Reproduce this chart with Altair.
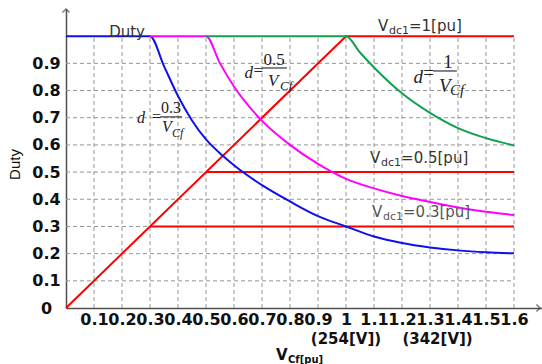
import altair as alt
import pandas as pd

# ---- duty curves d = k / V_Cf, saturated at d = 1 for small V_Cf ----
vcf_03 = [0.0, 0.30, 0.35, 0.40, 0.45, 0.50, 0.56, 0.60, 0.70, 0.80, 0.90,
          1.00, 1.10, 1.20, 1.30, 1.40, 1.50, 1.60]
duty_03 = [1.0, 1.00, 0.89, 0.78, 0.69, 0.62, 0.56, 0.525, 0.452, 0.392, 0.338,
           0.300, 0.263, 0.239, 0.223, 0.212, 0.205, 0.201]

vcf_05 = [0.30, 0.50, 0.55, 0.60, 0.695, 0.80, 0.90, 1.00, 1.10, 1.20, 1.30,
          1.40, 1.50, 1.60]
duty_05 = [1.0, 1.00, 0.90, 0.815, 0.694, 0.60, 0.53, 0.475, 0.44, 0.412, 0.39,
           0.37, 0.354, 0.342]

vcf_1 = [0.50, 1.00, 1.05, 1.10, 1.20, 1.30, 1.40, 1.50, 1.60]
duty_1 = [1.0, 1.00, 0.94, 0.885, 0.79, 0.718, 0.662, 0.625, 0.598]

curve_names = ["0.3", "0.5", "1"]
curve_colors = ["#1010ee", "#ff00ff", "#10a050"]

# ---- V_dc1 reference lines (red): ramp d = V_Cf and constant levels ----
ramp_x = [0.0, 1.0, 1.6]
ramp_y = [0.0, 1.0, 1.0]
vdc_levels = [0.5, 0.3]
vcf_end = 1.6

# ---- axis ticks ----
x_ticks = [0.1, 0.2, 0.3, 0.4, 0.5, 0.6, 0.7, 0.8, 0.9, 1.0,
           1.1, 1.2, 1.3, 1.4, 1.5, 1.6]
y_ticks = [0.0, 0.1, 0.2, 0.3, 0.4, 0.5, 0.6, 0.7, 0.8, 0.9]

xs = alt.Scale(domain=[0, 1.7], nice=False, zero=False)
ys = alt.Scale(domain=[0, 1.1], nice=False, zero=False)

curves = pd.concat([
    pd.DataFrame({"x": vx, "y": vy, "k": name})
    for vx, vy, name in zip([vcf_03, vcf_05, vcf_1], [duty_03, duty_05, duty_1], curve_names)
])
red = pd.concat(
    [pd.DataFrame({"x": ramp_x, "y": ramp_y, "s": "ramp"})]
    + [pd.DataFrame({"x": [lv, vcf_end], "y": [lv, lv], "s": f"L{lv}"}) for lv in vdc_levels]
)
one = pd.DataFrame({"k": [0]})

lab = dict(labelFont="DejaVu Sans", labelFontSize=16, labelFontWeight="bold",
           labelColor="#111", domain=True, domainColor="#505050", domainWidth=1.5,
           ticks=False, tickSize=0, grid=False, labelOverlap=False, labelFlush=False,
           labelBound=False, labelExpr="format(datum.value, '.1~f')")

# the same axis definition is given to every layer so the merged axes agree
x_axis = alt.Axis(values=x_ticks, title=None, labelPadding=3, **lab)
y_axis = alt.Axis(values=y_ticks, labelAlign="center", labelPadding=20,
                  title="Duty", titleFont="Liberation Sans", titleFontSize=15,
                  titleFontWeight="normal", titleColor="#111", titleAngle=270,
                  titleX=-52, titleY=155, titleAlign="center",
                  titleBaseline="middle", **lab)


def X(field=None, datum=None):
    if field is not None:
        return alt.X(field, type="quantitative", scale=xs, axis=x_axis)
    return alt.X(datum=datum, scale=xs, axis=x_axis)


def Y(field=None, datum=None):
    if field is not None:
        return alt.Y(field, type="quantitative", scale=ys, axis=y_axis)
    return alt.Y(datum=datum, scale=ys, axis=y_axis)


def note(x, y, text, size=15, dx=0, dy=0, font="DejaVu Sans", style="normal",
         weight="normal", align="left", color="#333"):
    return alt.Chart(one).mark_text(
        text=text, fontSize=size, dx=dx, dy=dy, font=font, fontStyle=style,
        fontWeight=weight, align=align, baseline="alphabetic", color=color
    ).encode(x=X(datum=x), y=Y(datum=y))


# dashed grid, bounded by d = 1 and V_Cf = 1.6
grid_style = dict(color="#959595", strokeDash=[4, 3], strokeWidth=1)
grid_v = alt.Chart(pd.DataFrame({"x": x_ticks})).mark_rule(**grid_style).encode(
    x=X("x"), y=Y(datum=0), y2=alt.Y2(datum=1.0))
grid_h = alt.Chart(pd.DataFrame({"y": y_ticks[1:]})).mark_rule(**grid_style).encode(
    y=Y("y"), x=X(datum=0), x2=alt.X2(datum=vcf_end))

red_lines = alt.Chart(red).mark_line(color="#ff0000", strokeWidth=2).encode(
    x=X("x"), y=Y("y"), detail="s:N")

curve_lines = alt.Chart(curves).mark_line(strokeWidth=2, interpolate="monotone").encode(
    x=X("x"), y=Y("y"),
    color=alt.Color("k:N", scale=alt.Scale(domain=curve_names, range=curve_colors),
                    legend=None))

# arrow heads at the ends of both axes
arrow_x = alt.Chart(one).mark_point(shape="M-1,-1L0,0L-1,1", filled=False, size=50,
                                    stroke="#444", strokeWidth=1.5, xOffset=-2).encode(
    x=X(datum=1.7), y=Y(datum=0))
arrow_y = alt.Chart(one).mark_point(shape="M-1,1L0,0L1,1", filled=False, size=50,
                                    stroke="#444", strokeWidth=1.5).encode(
    x=X(datum=0), y=Y(datum=1.1))

texts = [
    note(0.218, 0.997, "Duty", size=15, align="center"),
    # V_dc1 level labels
    note(1.114, 1.019, "V"), note(1.114, 1.019, "dc1", size=11, dx=11, dy=3),
    note(1.114, 1.019, "=1[pu]", dx=31),
    note(1.086, 0.533, "V"), note(1.086, 0.533, "dc1", size=11, dx=11, dy=3),
    note(1.086, 0.533, "=0.5[pu]", dx=31),
    note(1.093, 0.335, "V", color="#555"),
    note(1.093, 0.335, "dc1", size=11, dx=11, dy=3, color="#555"),
    note(1.093, 0.335, "=0.3[pu]", dx=31, color="#555"),
    # secondary voltage labels under the axis
    note(1.0, -0.1325, "(254[V])", weight="bold", align="center", color="#111"),
    note(1.327, -0.1325, "(342[V])", weight="bold", align="center", color="#111"),
    # x axis title V_Cf[pu]
    note(0.75, -0.191, "V", weight="bold", color="#111"),
    note(0.75, -0.191, "Cf[pu]", size=10, weight="bold", dx=12, dy=3, color="#111"),
]

# fraction labels d = k / V_Cf
formulas = [
    # x0, x1, y, num, size, d_dx, d_dy, eq_dy, num_dx, num_dy, v_dx, v_dy, sub_dx, sub_dy
    (0.336, 0.4146, 0.703, "0.3", 16, -15, 6, 5, 11, -4, 2, 15, 12, 20),
    (0.700, 0.789, 0.883, "0.5", 17, -9, 10, 8, 12, -3, 6, 18, 18, 22),
    (1.311, 1.396, 0.872, "1", 19, -10, 12, 8, 15, -3, 6, 21, 17, 24),
]
serif = "Liberation Serif"
for x0, x1, y, num, s, ddx, ddy, edy, ndx, ndy, vdx, vdy, sdx, sdy in formulas:
    texts += [
        note(x0, y, "d", size=s, dx=ddx, dy=ddy, font=serif, style="italic",
             align="right", color="#222"),
        note(x0, y, "=", size=s, dx=1, dy=edy, font=serif, align="right", color="#222"),
        note(x0, y, num, size=s, dx=ndx, dy=ndy, font=serif, align="center", color="#222"),
        note(x0, y, "V", size=s, dx=vdx, dy=vdy, font=serif, style="italic", color="#222"),
        note(x0, y, "Cf", size=s - 4, dx=sdx, dy=sdy, font=serif, style="italic",
             color="#222"),
        alt.Chart(one).mark_rule(color="#333", strokeWidth=1.2).encode(
            x=X(datum=x0), x2=alt.X2(datum=x1), y=Y(datum=y)),
    ]

chart = alt.layer(
    grid_v, grid_h, red_lines, curve_lines, arrow_x, arrow_y, *texts
).properties(
    width=476, height=299,
    autosize=alt.AutoSizeParams(type="none"),
    padding={"left": 66, "top": 9, "right": 0, "bottom": 56},
    background="white",
).configure_view(stroke=None)

chart.save("out.html", embed_options={"renderer": "svg", "actions": False})
